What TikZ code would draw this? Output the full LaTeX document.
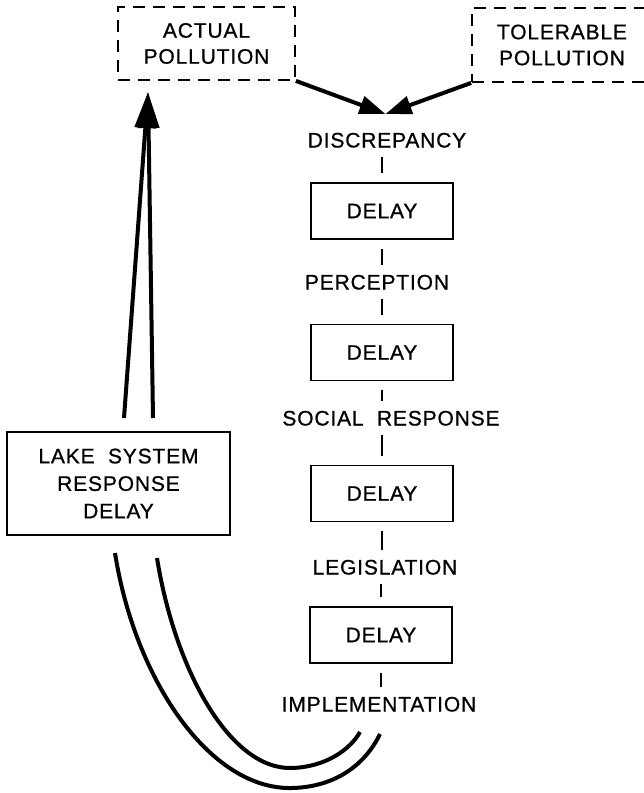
\documentclass[tikz,border=0pt]{standalone}
\usepackage{fontspec}
\setmainfont{Liberation Sans}[LetterSpace=4, FakeBold=0.8]
\usetikzlibrary{arrows.meta}
\begin{document}
\begin{tikzpicture}[x=1pt,y=-1pt,
  txt/.style={font=\fontsize{21}{27}\selectfont},
  lbl/.style={txt, inner sep=0pt, text height=15pt, text depth=0pt},
  delaybox/.style={txt, draw, line width=1.7pt, minimum width=142pt,
    minimum height=56pt, inner sep=0pt},
  goalbox/.style={draw, line width=1.8pt, dash pattern=on 12pt off 8pt,
    align=center, inner sep=0pt,
    font=\fontsize{21}{26}\selectfont},
  tick/.style={line width=1.7pt, shorten <=9pt, shorten >=9pt},
  heavy/.style={line width=4pt},
  bigtip/.style={-{Triangle[length=26pt,width=18pt]}},
  uptip/.style={-{Triangle[length=36pt,width=21pt]}}]
\useasboundingbox (0,0) rectangle (644,793);
\clip (0,0) rectangle (644,793);

% reference levels
\node[goalbox, minimum width=177pt, minimum height=73pt] (actual)
  at (206.5,43.5) {ACTUAL\\POLLUTION};
\node[goalbox, minimum width=180pt, minimum height=74pt] (tolerable)
  at (562,45) {TOLERABLE\\POLLUTION};

% chain of social and legal delays
\node[lbl] (disc) at (387,140) {DISCREPANCY};
\node[delaybox] (d1) at (382,211) {DELAY};
\node[lbl] (perc) at (377,282) {PERCEPTION};
\node[delaybox] (d2) at (382,352.5) {DELAY};
\node[lbl] (soc) at (391,418) {SOCIAL\ \ RESPONSE};
\node[delaybox] (d3) at (382,493.5) {DELAY};
\node[lbl] (leg) at (385,567) {LEGISLATION};
\node[delaybox] (d4) at (381,635) {DELAY};
\node[lbl] (impl) at (379,704) {IMPLEMENTATION};

% physical response of the lake
\node[draw, line width=1.7pt, minimum width=223pt, minimum height=103pt,
  align=center, inner sep=0pt, font=\fontsize{21}{27.5}\selectfont]
  (lake) at (118.5,483.5) {LAKE\ \ SYSTEM\\RESPONSE\\DELAY};

% comparison of actual and tolerable pollution
\coordinate (gap) at (385.5,114);
\draw[heavy, bigtip] (actual.south east) -- (gap);
\draw[heavy, bigtip] (tolerable.south west) -- (gap);

% ticks joining the chain
\draw[tick] (disc.south -| d1.north) -- (d1.north);
\draw[tick] (d1.south) -- (perc.north -| d1.south);
\draw[tick] (perc.south -| d2.north) -- (d2.north);
\draw[tick] (d2.south) -- (soc.north -| d2.south);
\draw[tick] (soc.south -| d3.north) -- (d3.north);
\draw[tick] (d3.south) -- (leg.north -| d3.south);
\draw[tick] (leg.south -| d4.north) -- (d4.north);
\draw[tick] (d4.south) -- (impl.north -| d4.south);

% feedback from implementation through the lake
\coordinate (inA) at (380,734);
\coordinate (inB) at (360,732);
\coordinate (lkA) at (115,553);
\coordinate (lkB) at (157,558);
\draw[heavy] (inA) .. controls (365,765) and (335,787) .. (292,788)
  .. controls (210,790) and (135,680) .. (lkA);
\draw[heavy] (inB) .. controls (350,750) and (325,767) .. (292,768)
  .. controls (230,770) and (175,670) .. (lkB);

\coordinate (upL) at (124,418);
\coordinate (upR) at (153,418);
\coordinate (upT) at (148,92);
\draw[heavy, uptip] (upL) -- (upT);
\draw[heavy, uptip] (upR) -- (upT);
\end{tikzpicture}
\end{document}
